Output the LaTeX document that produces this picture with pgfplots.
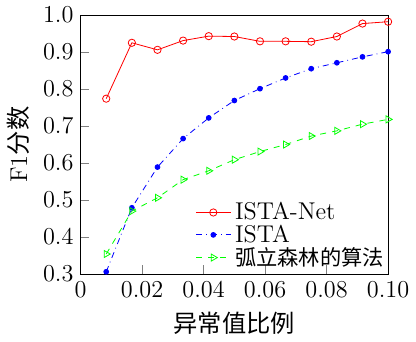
\documentclass[border=0pt]{standalone}
\usepackage{fontspec}
\usepackage{pgfplots}
\pgfplotsset{compat=1.18}
\newfontfamily\cjk{Noto Sans CJK SC}
\begin{document}
\begin{tikzpicture}
\begin{axis}[
  scale only axis,
  width=152pt, height=128pt,
  xmin=0, xmax=0.1, ymin=0.3, ymax=1.0,
  xtick={0,0.02,0.04,0.06,0.08,0.10},
  xticklabels={0,0.02,0.04,0.06,0.08,0.10},
  ytick={0.3,0.4,0.5,0.6,0.7,0.8,0.9,1.0},
  yticklabels={0.3,0.4,0.5,0.6,0.7,0.8,0.9,1.0},
  xtick pos=left, ytick pos=left,
  tick align=inside,
  ticklabel style={font=\large},
  label style={font=\large},
  xlabel={\cjk 异常值比例},
  ylabel={F1{\cjk 分数}},
  legend style={draw=none, fill=none, font=\large, at={(1.02,-0.01)}, anchor=south east, row sep=-3pt},
  legend cell align=left,
]
\addplot[red, mark=o, mark size=1.8pt] coordinates {
(0.008333,0.774) (0.016667,0.925) (0.025,0.906) (0.033333,0.931) (0.041667,0.943) (0.05,0.942)
(0.058333,0.929) (0.066667,0.929) (0.075,0.928) (0.083333,0.942) (0.091667,0.977) (0.1,0.982)};
\addlegendentry{ISTA-Net}
\addplot[blue, dash dot, mark=*, mark size=1.2pt, mark options={solid}] coordinates {
(0.008333,0.306) (0.016667,0.479) (0.025,0.589) (0.033333,0.666) (0.041667,0.722) (0.05,0.769)
(0.058333,0.801) (0.066667,0.830) (0.075,0.855) (0.083333,0.871) (0.091667,0.887) (0.1,0.901)};
\addlegendentry{ISTA}
\addplot[green, dashed, mark=triangle, mark size=2pt, mark options={solid, rotate=-90}] coordinates {
(0.008333,0.354) (0.016667,0.470) (0.025,0.506) (0.033333,0.555) (0.041667,0.579) (0.05,0.609)
(0.058333,0.631) (0.066667,0.650) (0.075,0.673) (0.083333,0.687) (0.091667,0.705) (0.1,0.718)};
\addlegendentry{\cjk\fontsize{10.5}{12}\selectfont 弧立森林的算法}
\end{axis}
\end{tikzpicture}
\end{document}
